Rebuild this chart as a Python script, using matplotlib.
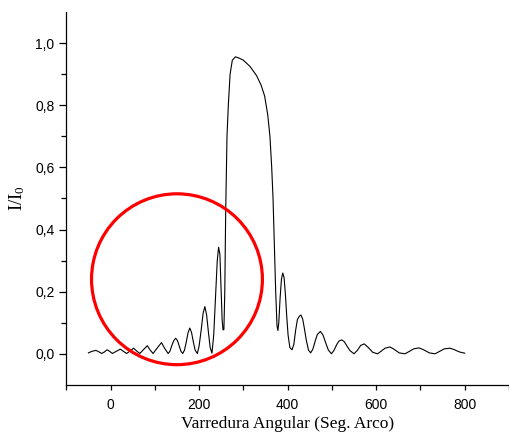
import numpy as np
import matplotlib
matplotlib.use("Agg")
import matplotlib.pyplot as plt
from matplotlib.patches import Ellipse
from matplotlib.ticker import FuncFormatter

plt.rcParams["mathtext.fontset"] = "custom"
plt.rcParams["mathtext.rm"] = "Liberation Serif"
plt.rcParams["mathtext.it"] = "Liberation Serif:italic"

# curva de difracao
ang = [-50, -42, -33, -26, -20, -14, -8, -2, 4, 13, 22, 29, 36, 44, 52, 59, 66,
       74, 83, 89, 96, 105, 115, 122, 130, 134, 138, 143, 147, 151, 155, 159,
       163, 167, 171, 175, 179, 183, 187, 191, 196, 200, 205, 209, 213, 217,
       221, 225, 229, 233, 237, 241, 244, 247, 250, 252, 254, 256, 258, 260,
       263, 266, 270, 275, 282, 290, 300, 315, 330, 340, 348, 355, 360, 364,
       367, 370, 373, 376, 378, 380, 383, 386, 389, 392, 395, 398, 401, 405,
       410, 414, 418, 422, 426, 430, 434, 438, 442, 447, 452, 457, 462, 467,
       474, 480, 486, 492, 499, 505, 511, 516, 522, 528, 534, 541, 550, 558,
       565, 573, 581, 592, 603, 611, 620, 631, 640, 652, 665, 674, 685, 697,
       707, 720, 733, 742, 754, 767, 777, 788, 800]
inten = [0.003, 0.008, 0.011, 0.006, 0.001, 0.006, 0.013, 0.008, 0.001, 0.008,
         0.015, 0.008, 0.001, 0.009, 0.018, 0.009, 0.001, 0.013, 0.026, 0.013,
         0.001, 0.018, 0.036, 0.018, 0.001, 0.008, 0.025, 0.043, 0.050, 0.043,
         0.025, 0.008, 0.001, 0.012, 0.038, 0.068, 0.083, 0.068, 0.038, 0.012,
         0.001, 0.025, 0.080, 0.130, 0.152, 0.125, 0.070, 0.020, 0.002, 0.060,
         0.180, 0.300, 0.343, 0.320, 0.200, 0.110, 0.077, 0.078, 0.200, 0.450,
         0.700, 0.800, 0.900, 0.945, 0.956, 0.952, 0.945, 0.925, 0.895, 0.865,
         0.830, 0.770, 0.700, 0.600, 0.500, 0.350, 0.200, 0.090, 0.075, 0.100,
         0.180, 0.240, 0.260, 0.245, 0.190, 0.120, 0.060, 0.020, 0.013, 0.030,
         0.075, 0.110, 0.120, 0.125, 0.112, 0.080, 0.045, 0.012, 0.003, 0.015,
         0.040, 0.062, 0.072, 0.060, 0.035, 0.012, 0.000, 0.012, 0.030, 0.041,
         0.045, 0.039, 0.025, 0.010, 0.000, 0.012, 0.027, 0.032, 0.022, 0.005,
         0.000, 0.008, 0.018, 0.022, 0.015, 0.003, 0.000, 0.007, 0.016, 0.019,
         0.013, 0.003, 0.000, 0.007, 0.016, 0.018, 0.013, 0.006, 0.002]

xmaj = [0, 200, 400, 600, 800]
xmin = [-100, 100, 300, 500, 700, 900]
ymaj = [0.0, 0.2, 0.4, 0.6, 0.8, 1.0]
ymin = [0.1, 0.3, 0.5, 0.7, 0.9]

fig = plt.figure(figsize=(5.10, 4.47), dpi=100)
ax = fig.add_axes([0.130, 0.139, 0.868, 0.834])

ax.plot(ang, inten, color="black", lw=0.8)

# circulo vermelho de destaque
circ = Ellipse((150, 0.24), width=386, height=0.55, fill=False,
               edgecolor="#ff0000", lw=2.3, zorder=3)
ax.add_patch(circ)

ax.set_xlim(-100, 900)
ax.set_ylim(-0.1, 1.1)
ax.set_xticks(xmaj)
ax.set_xticks(xmin, minor=True)
ax.set_yticks(ymaj)
ax.set_yticks(ymin, minor=True)
ax.yaxis.set_major_formatter(FuncFormatter(lambda v, p: ("%.1f" % v).replace(".", ",")))

for s in ["top", "right"]:
    ax.spines[s].set_visible(False)
for s in ["left", "bottom"]:
    ax.spines[s].set_linewidth(0.9)

ax.tick_params(axis="y", which="major", length=5, width=0.9, direction="out")
ax.tick_params(axis="y", which="minor", length=3.5, width=0.9, direction="out")
ax.tick_params(axis="x", which="both", length=3.5, width=0.9, direction="out")
for lab in ax.get_xticklabels() + ax.get_yticklabels():
    lab.set_fontfamily("Liberation Sans")
    lab.set_fontsize(10)
ax.tick_params(axis="x", pad=6)

ax.set_xlabel("Varredura Angular (Seg. Arco)", fontfamily="Liberation Serif",
              fontsize=12.5, labelpad=3)
ax.set_ylabel("I/I$_0$", fontfamily="Liberation Serif", fontsize=13.5, labelpad=6)

fig.savefig("out.png", dpi=100)
